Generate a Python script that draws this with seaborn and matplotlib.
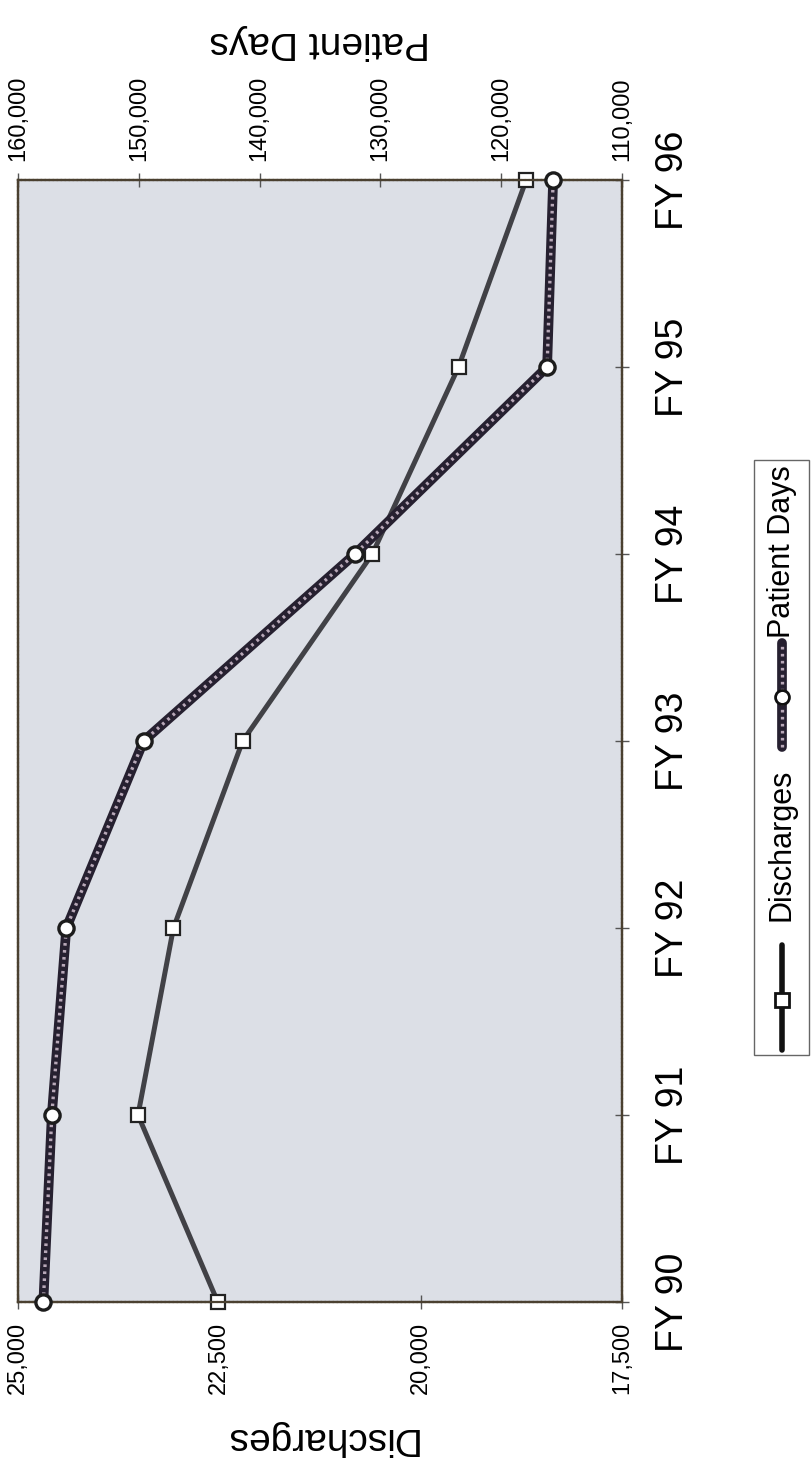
import numpy as np
import pandas as pd
import matplotlib
matplotlib.use("Agg")
import matplotlib.pyplot as plt
import matplotlib.ticker as mticker
from matplotlib.lines import Line2D
from matplotlib.patches import Rectangle
import seaborn as sns

# ---- data ----
years = ["FY 90", "FY 91", "FY 92", "FY 93", "FY 94", "FY 95", "FY 96"]
discharges = [22520, 23510, 23070, 22210, 20600, 19530, 18690]
patient_days = [157900, 157200, 156000, 149600, 132100, 116200, 115700]
discharge_ticks = [25000, 22500, 20000, 17500]
patient_day_ticks = [160000, 150000, 140000, 130000, 120000, 110000]

sns.set_theme(style="white")
plt.rcParams["font.family"] = ["Liberation Sans", "DejaVu Sans"]
plt.rcParams["text.color"] = "black"
plt.rcParams["xtick.color"] = "black"
plt.rcParams["ytick.color"] = "black"

df = pd.DataFrame({"year": years, "pos": np.arange(len(years)),
                   "Discharges": discharges, "Patient Days": patient_days})

W, H = 812, 1467
fig = plt.figure(figsize=(W / 100, H / 100), dpi=100)
ax = fig.add_axes([18 / W, 1 - 1302 / H, (622 - 18) / W, (1302 - 180) / H])
ax.set_facecolor("#dcdfe6")

dark = "#414146"
bead = "#262030"
bead_dot = "#b8a8b8"

# Discharges (bottom axis)
sns.lineplot(data=df, x="Discharges", y="pos", orient="y", sort=False, ax=ax,
             color=dark, linewidth=3.6, marker="s", markersize=9.5,
             markerfacecolor="white", markeredgecolor="#222222",
             markeredgewidth=1.6, zorder=3, clip_on=False, legend=False)
ax.set_xlim(discharge_ticks[0], discharge_ticks[-1])
ax.set_ylim(0, len(years) - 1)
ax.set_xticks(discharge_ticks)
ax.xaxis.set_major_formatter(mticker.StrMethodFormatter("{x:,.0f}"))
ax.set_yticks(df["pos"])
ax.set_yticklabels(years)
ax.yaxis.tick_right()
ax.tick_params(axis="x", labelrotation=90, labelsize=17, direction="inout",
               length=10, width=1, color="#555555", labelcolor="black", pad=9, bottom=True)
ax.tick_params(axis="y", labelsize=27, direction="inout", length=10, width=1,
               color="#555555", labelcolor="black", pad=19, right=True, left=False)
for lab in ax.get_yticklabels():
    lab.set_rotation(90)
    lab.set_va("center")
ax.set_xlabel("")
ax.set_ylabel("")

# Patient Days (top axis)
ax2 = ax.twiny()
sns.lineplot(data=df, x="Patient Days", y="pos", orient="y", sort=False, ax=ax2,
             color=bead, linewidth=7, zorder=4, clip_on=False, legend=False)
sns.lineplot(data=df, x="Patient Days", y="pos", orient="y", sort=False, ax=ax2,
             color=bead_dot, linewidth=2.4, linestyle=(0, (0.8, 1.3)),
             zorder=4.5, clip_on=False, legend=False)
sns.scatterplot(data=df, x="Patient Days", y="pos", ax=ax2, marker="o", s=120,
                color="white", edgecolor="#1c1c1c", linewidth=2.4, zorder=5,
                clip_on=False, legend=False)
ax2.set_xlim(patient_day_ticks[0], patient_day_ticks[-1])
ax2.set_ylim(0, len(years) - 1)
ax2.set_xticks(patient_day_ticks)
ax2.xaxis.set_major_formatter(mticker.StrMethodFormatter("{x:,.0f}"))
ax2.tick_params(axis="x", labelrotation=90, labelsize=17, direction="inout",
                length=10, width=1, color="#555555", labelcolor="black", pad=9, top=True)
ax2.set_xlabel("")
ax2.set_ylabel("")

for a in (ax, ax2):
    for sp in a.spines.values():
        sp.set_color("#4a4030")
        sp.set_linewidth(1.6)
        sp.set_linestyle((0, (1, 0.8)))

# Axis titles (chart is rotated)
fig.text(320 / W, 1 - 42 / H, "Patient Days", rotation=180, fontsize=28,
         ha="center", va="center")
fig.text(320 / W, 1 - 1438 / H, "Discharges", rotation=180, fontsize=28,
         ha="center", va="center")

# Legend (rotated, drawn manually)
fig.patches.append(Rectangle((754 / W, 1 - 1055 / H), (809 - 754) / W, (1055 - 460) / H,
                             transform=fig.transFigure, facecolor="white",
                             edgecolor="#666666", linewidth=1))
lx = 782 / W
fig.lines.append(Line2D([lx, lx], [1 - 1050 / H, 1 - 945 / H], transform=fig.transFigure,
                        color="#111111", linewidth=4))
fig.lines.append(Line2D([lx], [1 - 1000 / H], transform=fig.transFigure, marker="s",
                        markersize=10, markerfacecolor="white", markeredgecolor="#111111",
                        markeredgewidth=2, linestyle="none"))
fig.lines.append(Line2D([lx, lx], [1 - 747 / H, 1 - 643 / H], transform=fig.transFigure,
                        color=bead, linewidth=7))
fig.lines.append(Line2D([lx, lx], [1 - 747 / H, 1 - 643 / H], transform=fig.transFigure,
                        color=bead_dot, linewidth=2.4, linestyle=(0, (0.8, 1.3))))
fig.lines.append(Line2D([lx], [1 - 697 / H], transform=fig.transFigure, marker="o",
                        markersize=10, markerfacecolor="white", markeredgecolor="#111111",
                        markeredgewidth=2, linestyle="none"))
fig.text(lx, 1 - 845 / H, "Discharges", rotation=90, fontsize=22, ha="center", va="center")
fig.text(lx, 1 - 552 / H, "Patient Days", rotation=90, fontsize=22, ha="center", va="center")

fig.savefig("out.png", dpi=100)
